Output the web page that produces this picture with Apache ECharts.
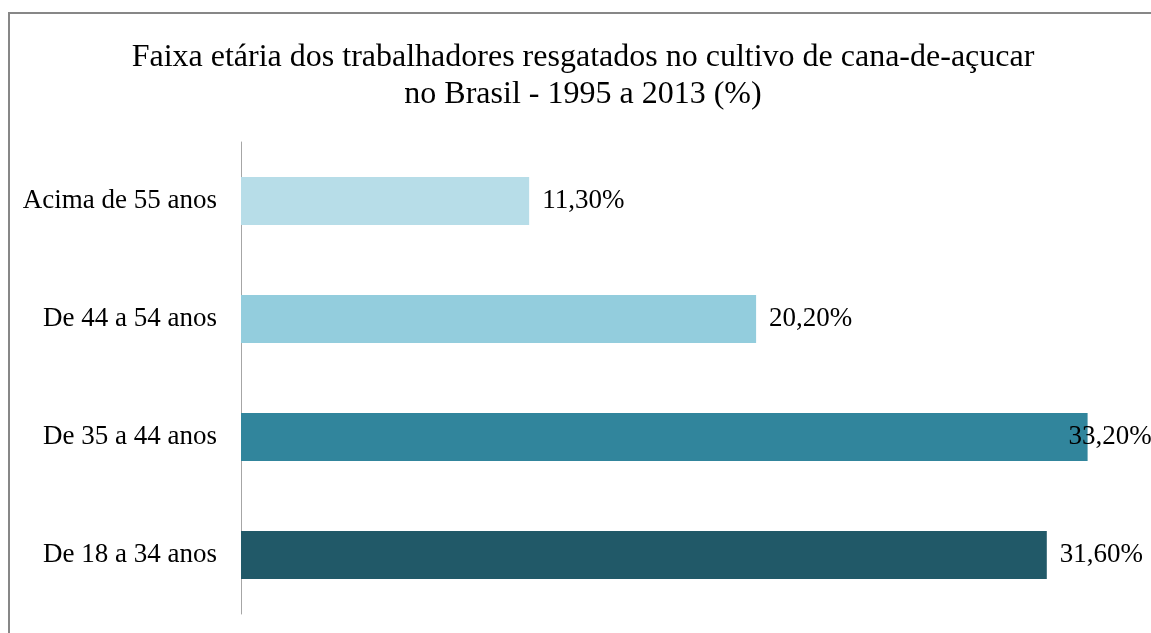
<!DOCTYPE html>
<html>
<head>
<meta charset="utf-8">
<script src="https://cdn.jsdelivr.net/npm/echarts@6/dist/echarts.min.js"></script>
<style>
    html, body { margin: 0; padding: 0; background: #fff; }
    #chart { width: 1151px; height: 633px; }
</style>
</head>
<body>
<div id="chart"></div>
<script>
// faixas etarias, de cima para baixo
var categorias = ['Acima de 55 anos', 'De 44 a 54 anos', 'De 35 a 44 anos', 'De 18 a 34 anos'];
var percentuais = [11.3, 20.2, 33.2, 31.6];
var cores = ['#b7dde8', '#93cddd', '#31859c', '#215968'];

var fonte = '"Liberation Serif", "Times New Roman", serif';

var dados = percentuais.map(function (v, i) {
    var item = { value: v, itemStyle: { color: cores[i] } };
    // o rotulo de 33,20% fica sobre o fim da barra
    if (i === 2) {
        item.label = { distance: -19 };
    }
    return item;
});

var myChart = echarts.init(document.getElementById('chart'));
var option = {
    backgroundColor: '#fff',
    animation: false,
    title: {
        text: 'Faixa etária dos trabalhadores resgatados no cultivo de cana-de-açucar\nno Brasil - 1995 a 2013 (%)',
        left: 578,
        top: 34,
        textAlign: 'center',
        textStyle: {
            fontFamily: fonte,
            fontWeight: 'normal',
            fontSize: 32,
            color: '#000',
            lineHeight: 37
        }
    },
    graphic: [{
        type: 'rect',
        shape: { x: 9, y: 13, width: 1160, height: 640 },
        style: { fill: 'none', stroke: '#878787', lineWidth: 2 },
        z: -1
    }],
    grid: {
        left: 241,
        top: 142,
        width: 892.5,
        bottom: 19
    },
    xAxis: {
        type: 'value',
        min: 0,
        max: 35,
        show: false
    },
    yAxis: {
        type: 'category',
        inverse: true,
        data: categorias,
        axisLine: { show: true, lineStyle: { color: '#a6a6a6', width: 1 } },
        axisTick: { show: false },
        axisLabel: {
            margin: 24,
            fontFamily: fonte,
            fontSize: 27,
            color: '#000'
        }
    },
    series: [{
        type: 'bar',
        data: dados,
        barWidth: 48,
        label: {
            show: true,
            position: 'right',
            distance: 13,
            fontFamily: fonte,
            fontSize: 27,
            color: '#000',
            formatter: function (p) {
                return p.value.toFixed(2).replace('.', ',') + '%';
            }
        }
    }]
};
myChart.setOption(option);
</script>
</body>
</html>
